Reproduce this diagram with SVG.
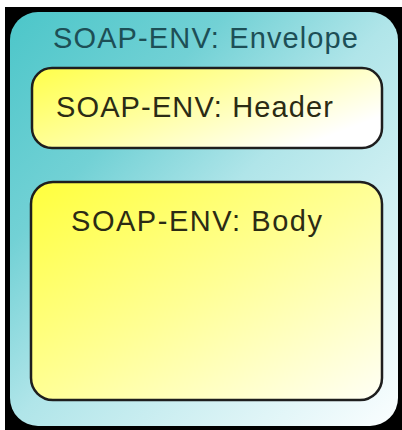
<svg xmlns="http://www.w3.org/2000/svg" width="402" height="430" viewBox="0 0 402 430">
  <defs>
    <linearGradient id="gEnv" x1="0" y1="0" x2="1" y2="1">
      <stop offset="0" stop-color="#4cc6c9"/>
      <stop offset="0.28" stop-color="#72d1d5"/>
      <stop offset="0.5" stop-color="#b0e5e9"/>
      <stop offset="1" stop-color="#fbfeff"/>
    </linearGradient>
    <linearGradient id="gHead" x1="0" y1="0" x2="1" y2="0.6">
      <stop offset="0" stop-color="#ffff4a"/>
      <stop offset="0.5" stop-color="#ffffa0"/>
      <stop offset="1" stop-color="#ffffff"/>
    </linearGradient>
    <linearGradient id="gBody" x1="0" y1="0" x2="1" y2="1">
      <stop offset="0" stop-color="#ffff3c"/>
      <stop offset="0.5" stop-color="#ffff96"/>
      <stop offset="1" stop-color="#fffff6"/>
    </linearGradient>
    <style>
      .lbl { font-family: "Liberation Sans", Arial, sans-serif; font-size: 29px; }
      .env { fill: #1d4f56; }
      .inner { fill: #2b2b14; }
      .box { stroke: #1e1e1e; stroke-width: 2.5; }
    </style>
  </defs>
  <rect x="0" y="0" width="402" height="430" fill="#ffffff"/>
  <rect x="5" y="7" width="397" height="423" fill="#000000"/>
  <g id="envelope">
    <rect x="10" y="12" width="388" height="414" rx="28" ry="28" fill="url(#gEnv)"/>
    <text class="lbl env" x="53" y="48" textLength="305" lengthAdjust="spacing">SOAP-ENV: Envelope</text>
  </g>
  <g id="header">
    <rect x="32" y="68" width="350" height="80" rx="20" ry="20" fill="url(#gHead)" class="box"/>
    <text class="lbl inner" x="56" y="117" textLength="277" lengthAdjust="spacing">SOAP-ENV: Header</text>
  </g>
  <g id="body">
    <rect x="31" y="182" width="351" height="218" rx="22" ry="22" fill="url(#gBody)" class="box"/>
    <text class="lbl inner" x="71" y="231" textLength="251" lengthAdjust="spacing">SOAP-ENV: Body</text>
  </g>
  <g id="connectors"/>
</svg>
